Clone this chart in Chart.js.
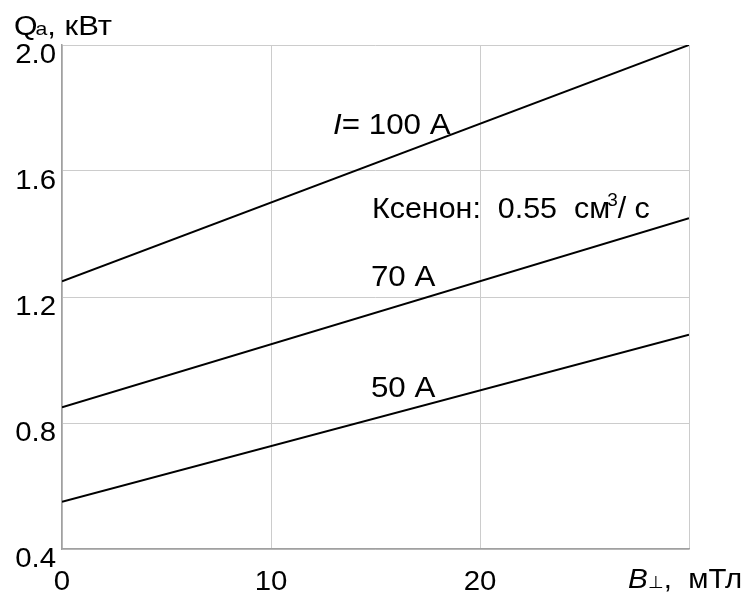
<!DOCTYPE html>
<html>
<head>
<meta charset="utf-8">
<script src="https://cdn.jsdelivr.net/npm/chart.js@4/dist/chart.umd.min.js"></script>
<style>
  html, body { margin: 0; padding: 0; background: #fff; }
  #wrap { width: 746px; height: 592px; position: relative; }
</style>
</head>
<body>
<div id="wrap"><canvas id="chart" width="746" height="592"></canvas></div>
<script>
// B (mTl) at both ends of each line
const bValues = [0, 30];
const q100 = [1.25, 2.0];
const q70 = [0.85, 1.45];
const q50 = [0.55, 1.08];

const xTicks = [0, 10, 20];
const yTicks = [0.4, 0.8, 1.2, 1.6, 2.0];

// curve labels, anchored in data units (left edge, baseline)
const notes = [
  { x: 12.97, y: 1.716, sx: 1.08, parts: [['I', 'italic'], ['= 100 A', '']] },
  { x: 14.83, y: 1.45, sx: 1.05, parts: [['Ксенон:  0.55  см', ''], ['3', 'sup'], ['/ с', '']] },
  { x: 14.78, y: 1.234, sx: 1.08, parts: [['70 A', '']] },
  { x: 14.78, y: 0.882, sx: 1.08, parts: [['50 A', '']] },
];

const FONT = 'Arial, "Liberation Sans", sans-serif';

const toPoints = (ys) => bValues.map((b, i) => ({ x: b, y: ys[i] }));

// draws text stretched horizontally by sx, returns drawn width
function stretchText(ctx, txt, x, y, font, sx, align) {
  ctx.font = font;
  const w = ctx.measureText(txt).width * sx;
  let left = x;
  if (align === 'right') left = x - w;
  if (align === 'center') left = x - w / 2;
  ctx.save();
  ctx.translate(left, y);
  ctx.scale(sx, 1);
  ctx.textAlign = 'left';
  ctx.fillText(txt, 0, 0);
  ctx.restore();
  return w;
}

const lineStyle = {
  borderColor: '#000',
  borderWidth: 2,
  pointRadius: 0,
  fill: false,
  tension: 0,
};

const textPlugin = {
  id: 'textPlugin',
  afterDraw(chart) {
    const { ctx, scales: { x, y } } = chart;
    ctx.save();
    ctx.fillStyle = '#000';
    ctx.textBaseline = 'alphabetic';

    // tick labels
    const tickFont = '28px ' + FONT;
    yTicks.forEach(v => {
      stretchText(ctx, v.toFixed(1), x.left - 6, y.getPixelForValue(v) + 18, tickFont, 1.05, 'right');
    });
    xTicks.forEach(v => {
      stretchText(ctx, String(v), x.getPixelForValue(v), 590, tickFont, 1.05, 'center');
    });

    // curve labels
    notes.forEach(n => {
      let px = x.getPixelForValue(n.x);
      const py = y.getPixelForValue(n.y);
      n.parts.forEach(([txt, st]) => {
        if (st === 'sup') {
          px += stretchText(ctx, txt, px - 3, py - 12, '19px ' + FONT, 1.0) - 3;
        } else {
          const f = (st === 'italic' ? 'italic ' : '') + '29px ' + FONT;
          px += stretchText(ctx, txt, px, py, f, n.sx);
        }
      });
    });

    // axis titles
    let tx = 14;
    tx += stretchText(ctx, 'Q', tx, 35, '27px ' + FONT, 1.12) - 2;
    tx += stretchText(ctx, 'a', tx, 35, '19px ' + FONT, 1.12);
    stretchText(ctx, ', кВт', tx, 35, '27px ' + FONT, 1.15);

    tx = 628;
    tx += stretchText(ctx, 'B', tx, 588, 'italic 28px ' + FONT, 1.06);
    tx += stretchText(ctx, '⊥', tx, 588, '17px ' + FONT, 1.06);
    stretchText(ctx, ',  мТл', tx, 588, '28px ' + FONT, 1.05);

    ctx.restore();
  }
};

new Chart(document.getElementById('chart'), {
  type: 'line',
  data: {
    datasets: [
      { label: '100 A', data: toPoints(q100), ...lineStyle },
      { label: '70 A', data: toPoints(q70), ...lineStyle },
      { label: '50 A', data: toPoints(q50), ...lineStyle },
    ],
  },
  options: {
    responsive: false,
    animation: false,
    layout: { padding: { left: 62, top: 45, right: 57, bottom: 43 } },
    plugins: {
      legend: { display: false },
      tooltip: { enabled: false },
    },
    scales: {
      x: {
        type: 'linear',
        min: 0,
        max: 30,
        ticks: { display: false, stepSize: 10 },
        grid: { color: '#cccccc', lineWidth: 1, drawTicks: false },
        border: { color: '#a0a0a0', width: 1.5 },
        afterFit: (s) => { s.height = 0; },
      },
      y: {
        min: 0.4,
        max: 2.0,
        ticks: { display: false, stepSize: 0.4 },
        grid: { color: '#cccccc', lineWidth: 1, drawTicks: false },
        border: { color: '#a0a0a0', width: 1.5 },
        afterFit: (s) => { s.width = 0; },
      },
    },
  },
  plugins: [textPlugin],
});
</script>
</body>
</html>
